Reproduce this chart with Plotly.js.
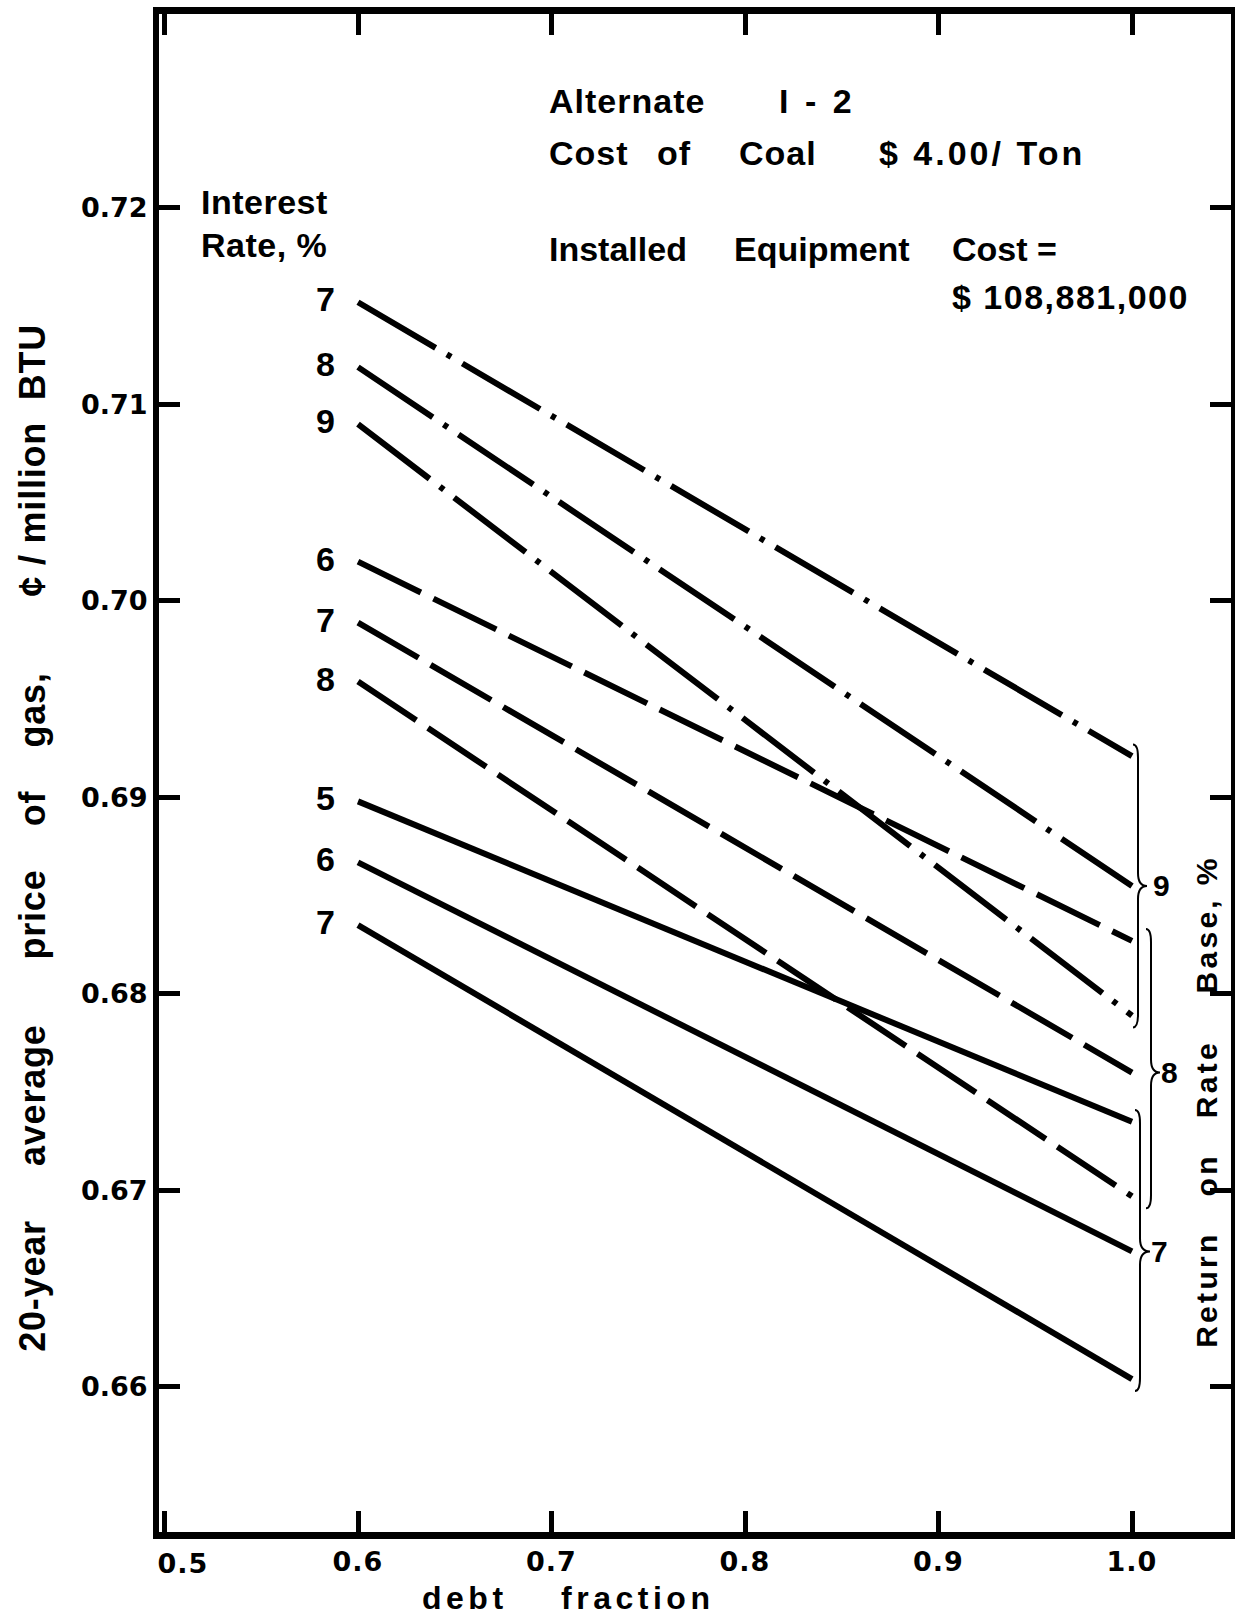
<!DOCTYPE html>
<html>
<head>
<meta charset="utf-8">
<script src="https://cdn.plot.ly/plotly-3.0.1.min.js"></script>
<style>
html, body { margin: 0; padding: 0; background: #ffffff; }
#chart { width: 1235px; height: 1619px; }
.xtick text { letter-spacing: 1px; }
</style>
</head>
<body>
<div id="chart"></div>
<script>
// ---------------- data ----------------
const debtFraction = [0.6, 1.0];
const returnOnRateBase = [9, 9, 9, 8, 8, 8, 7, 7, 7];
const interestRate = [7, 8, 9, 6, 7, 8, 5, 6, 7];
const priceAtDebt06 = [0.7152, 0.7119, 0.7090, 0.7020, 0.6989, 0.6959, 0.6898, 0.6867, 0.6835];
const priceAtDebt10 = [0.6921, 0.6855, 0.6789, 0.6827, 0.6760, 0.6697, 0.6735, 0.6669, 0.6604];
const returnGroups = [9, 8, 7];
const xTickVals = [0.5, 0.6, 0.7, 0.8, 0.9, 1.0];
const xTickLabels = ['0.5', '0.6', '0.7', '0.8', '0.9', '1.0'];
const yTickVals = [0.66, 0.67, 0.68, 0.69, 0.70, 0.71, 0.72];
const yTickLabels = ['0.66', '0.67', '0.68', '0.69', '0.70', '0.71', '0.72'];

// ---------------- geometry / styles ----------------
const W = 1235, H = 1619;
const PL = 159, PR = 1231, PT = 14, PB = 1532;
const XR = [0.49716, 1.05116];
const YR = [0.65262, 0.72987];
const fx = x => (x - PL) / (PR - PL);        // pixel -> paper x
const fy = y => (PB - y) / (PB - PT);        // pixel -> paper y
const dxData = px => px * (XR[1] - XR[0]) / (PR - PL);
const dyData = px => px * (YR[1] - YR[0]) / (PB - PT);

const dashFor = { 9: '90px,13px,5px,13px', 8: '70px,14px', 7: 'solid' };
const LIB = 'Liberation Sans, Arial, sans-serif';
const DEJ = 'DejaVu Sans, sans-serif';
const txtFont = (size, fam) => ({ family: fam || LIB, size: size, color: '#000', weight: 'bold' });
const NB = n => '\u00A0'.repeat(n);

// ---------------- traces ----------------
const traces = interestRate.map((ir, i) => ({
  type: 'scatter',
  mode: 'lines',
  x: debtFraction,
  y: [priceAtDebt06[i], priceAtDebt10[i]],
  line: { color: '#000', width: 6, dash: dashFor[returnOnRateBase[i]] },
  hoverinfo: 'skip',
  showlegend: false,
  name: 'Return ' + returnOnRateBase[i] + '%, interest ' + ir + '%'
}));

// ---------------- annotations ----------------
const annotations = [];
const spacing = [];
function addAnn(a, ls) { annotations.push(a); spacing.push(ls || 0); }

// interest-rate labels at the start of each line
interestRate.forEach((ir, i) => {
  addAnn({ x: debtFraction[0], y: priceAtDebt06[i], xref: 'x', yref: 'y', text: String(ir),
           showarrow: false, xanchor: 'center', yanchor: 'middle', xshift: -33, yshift: 3,
           font: txtFont(34) }, 0);
});

// header "Interest Rate, %"
addAnn({ x: fx(199), y: fy(202), xref: 'paper', yref: 'paper', text: 'Interest', showarrow: false,
         xanchor: 'left', yanchor: 'middle', align: 'left', font: txtFont(34) }, 0.5);
addAnn({ x: fx(199), y: fy(245), xref: 'paper', yref: 'paper', text: 'Rate, %', showarrow: false,
         xanchor: 'left', yanchor: 'middle', align: 'left', font: txtFont(34) }, 0.5);

// top-right text block
const block = [
  ['Alternate', 547, 101, 1], ['I - 2', 777, 101, 3.5],
  ['Cost', 547, 153, 1], ['of', 655, 153, 1], ['Coal', 737, 153, 1], ['$ 4.00/ Ton', 877, 153, 3],
  ['Installed', 547, 249, 0], ['Equipment', 732, 249, 0], ['Cost =', 950, 249, 0],
  ['$ 108,881,000', 950, 297, 1.5]
];
block.forEach(b => addAnn({ x: fx(b[1]), y: fy(b[2]), xref: 'paper', yref: 'paper', text: b[0],
  showarrow: false, xanchor: 'left', yanchor: 'middle', align: 'left', font: txtFont(34) }, b[3]));

// y-axis title (left, rotated)
const yTitle = '20-year' + NB(5) + 'average' + NB(6) + 'price' + NB(4) + 'of' + NB(4) + 'gas,' + NB(7) +
               '\u00A2' + NB(1) + '/' + NB(1) + 'million' + NB(2) + 'BTU';
addAnn({ x: fx(32), y: fy(838), xref: 'paper', yref: 'paper', text: yTitle, textangle: -90,
         showarrow: false, xanchor: 'center', yanchor: 'middle', font: txtFont(36) }, 0.8);

// right title (rotated)
const rTitle = 'Return' + NB(3) + 'on' + NB(3) + 'Rate' + NB(4) + 'Base, %';
addAnn({ x: fx(1206), y: fy(1102), xref: 'paper', yref: 'paper', text: rTitle, textangle: -90,
         showarrow: false, xanchor: 'center', yanchor: 'middle', font: txtFont(30) }, 3.3);

// x-axis title
addAnn({ x: fx(568), y: fy(1598), xref: 'paper', yref: 'paper', text: 'debt' + NB(4) + 'fraction',
         showarrow: false, xanchor: 'center', yanchor: 'middle', font: txtFont(32) }, 4.5);

// "0.5" tick label (offset to the right of the axis corner as in the original)
addAnn({ x: xTickVals[0], y: fy(1563), xref: 'x', yref: 'paper', text: xTickLabels[0], xshift: 18,
         showarrow: false, xanchor: 'center', yanchor: 'middle', font: txtFont(27, DEJ) }, 1);

// braces for return-on-rate-base groups
const braceGeom = { 9: { base: 6, tip: 15, lab: 29 }, 8: { base: 19, tip: 28, lab: 37 }, 7: { base: 8, tip: 18, lab: 27 } };
const shapes = [];
const pad = 0.0006;
returnGroups.forEach(g => {
  const ends = priceAtDebt10.filter((v, i) => returnOnRateBase[i] === g);
  const top = Math.max(...ends) + pad, bot = Math.min(...ends) - pad, mid = ends[1];
  const x1 = debtFraction[1];
  const xb = x1 + dxData(braceGeom[g].base), xt = x1 + dxData(braceGeom[g].tip);
  const hook = dxData(5), r = dyData(13);
  const p = 'M ' + (xb - hook) + ',' + top +
            ' Q ' + xb + ',' + top + ' ' + xb + ',' + (top - r) +
            ' L ' + xb + ',' + (mid + r) +
            ' Q ' + xb + ',' + mid + ' ' + xt + ',' + mid +
            ' Q ' + xb + ',' + mid + ' ' + xb + ',' + (mid - r) +
            ' L ' + xb + ',' + (bot + r) +
            ' Q ' + xb + ',' + bot + ' ' + (xb - hook) + ',' + bot;
  shapes.push({ type: 'path', xref: 'x', yref: 'y', path: p, line: { color: '#000', width: 2 } });
  addAnn({ x: x1, y: mid, xref: 'x', yref: 'y', text: String(g), showarrow: false, xshift: braceGeom[g].lab,
           xanchor: 'center', yanchor: 'middle', font: txtFont(30) }, 0);
});

// ---------------- layout ----------------
const layout = {
  width: W, height: H, autosize: false,
  margin: { l: PL, r: W - PR, t: PT, b: H - PB, pad: 0 },
  paper_bgcolor: '#fff', plot_bgcolor: '#fff',
  showlegend: false,
  xaxis: {
    range: XR, tickmode: 'array', tickvals: xTickVals,
    ticktext: xTickLabels.map((t, i) => i === 0 ? '' : t),
    ticks: 'inside', ticklen: 21, tickwidth: 5, tickcolor: '#000',
    showline: true, linewidth: 7, linecolor: '#000', mirror: 'ticks',
    showgrid: false, zeroline: false, ticklabelstandoff: 0,
    tickfont: txtFont(27, DEJ), fixedrange: true
  },
  yaxis: {
    range: YR, tickmode: 'array', tickvals: yTickVals, ticktext: yTickLabels,
    ticks: 'inside', ticklen: 21, tickwidth: 5, tickcolor: '#000',
    showline: true, linewidth: 6, linecolor: '#000', mirror: 'ticks',
    showgrid: false, zeroline: false, ticklabelstandoff: 0,
    tickfont: txtFont(27, DEJ), fixedrange: true
  },
  annotations: annotations,
  shapes: shapes
};

Plotly.newPlot('chart', traces, layout, { staticPlot: true, displayModeBar: false }).then(() => {
  document.querySelectorAll('g.annotation').forEach(g => {
    const idx = +g.getAttribute('data-index');
    const ls = spacing[idx];
    if (ls) g.querySelectorAll('text').forEach(t => { t.style.letterSpacing = ls + 'px'; });
  });
});
</script>
</body>
</html>
